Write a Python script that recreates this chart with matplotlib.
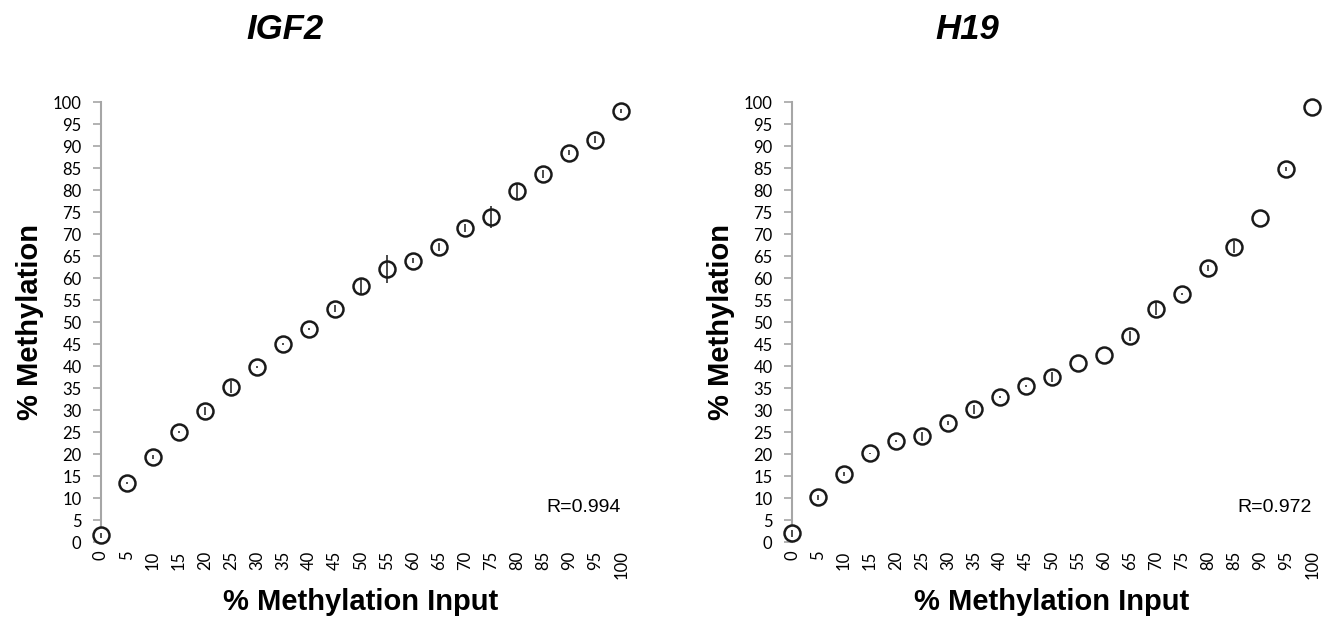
import numpy as np
import matplotlib
matplotlib.use("Agg")
import matplotlib.pyplot as plt

# x categories (% methylation input)
input_pct = [0, 5, 10, 15, 20, 25, 30, 35, 40, 45, 50,
             55, 60, 65, 70, 75, 80, 85, 90, 95, 100]

# IGF2 measured methylation and error
igf2_mean = [1.5, 13.4, 19.3, 25.0, 29.8, 35.3, 39.8, 45.0, 48.5, 53.0, 58.2,
             62.0, 64.0, 67.0, 71.3, 74.0, 79.7, 83.7, 88.5, 91.5, 98.0]
igf2_err = [0.5, 0.2, 0.4, 0.2, 1.0, 1.4, 0.2, 0.3, 0.2, 0.8, 1.9,
            3.2, 0.6, 0.9, 0.9, 2.5, 1.8, 0.9, 0.6, 0.8, 0.5]

# H19 measured methylation and error
h19_mean = [2.0, 10.2, 15.5, 20.2, 23.0, 24.0, 27.0, 30.2, 33.0, 35.5, 37.5,
            40.7, 42.5, 46.8, 53.0, 56.4, 62.3, 67.0, 73.6, 84.8, 98.9]
h19_err = [0.8, 0.6, 0.5, 0.1, 0.2, 1.1, 0.5, 1.0, 0.2, 0.2, 1.1,
           0.0, 0.0, 1.1, 1.5, 0.2, 0.6, 1.4, 0.0, 0.5, 0.0]

titles = ["IGF2", "H19"]
r_labels = ["R=0.994", "R=0.972"]

fig = plt.figure(figsize=(13.27, 6.23), dpi=100)
tick_font = "Lato"
bold_font = ["Liberation Sans", "DejaVu Sans"]

panels = [(igf2_mean, igf2_err), (h19_mean, h19_err)]
lefts = [101 / 1327, 792 / 1327]
for i, (mean, err) in enumerate(panels):
    ax = fig.add_axes([lefts[i], 0.130, 0.392, 0.706])
    ax.plot(input_pct, mean, "o", ms=11.5, mfc="white", mec="#1a1a1a",
            mew=1.8, zorder=3, clip_on=False)
    ax.errorbar(input_pct, mean, yerr=err, fmt="none", ecolor="#1a1a1a",
                elinewidth=1.1, capsize=0, zorder=4, clip_on=False)
    ax.set_xlim(0, 100)
    ax.set_ylim(0, 100)
    ax.set_xticks(input_pct)
    ax.set_xticklabels([str(v) for v in input_pct], rotation=90,
                       fontsize=12, family=tick_font)
    ax.set_yticks(range(0, 101, 5))
    ax.set_yticklabels([str(v) for v in range(0, 101, 5)],
                       fontsize=12, family=tick_font)
    for s in ["top", "right", "bottom"]:
        ax.spines[s].set_visible(False)
    ax.spines["left"].set_color("#a6a6a6")
    ax.spines["left"].set_linewidth(1.5)
    ax.tick_params(axis="y", direction="out", length=6, width=1.2,
                   color="#a6a6a6", pad=8)
    ax.tick_params(axis="x", length=0, pad=6)
    ax.set_ylabel("% Methylation", fontsize=21, fontweight="bold",
                  family=bold_font, labelpad=6)
    ax.set_xlabel("% Methylation Input", fontsize=21, fontweight="bold",
                  family=bold_font, labelpad=6)
    ax.text(1.0, 0.06, r_labels[i], transform=ax.transAxes, ha="right",
            va="bottom", fontsize=14, family=bold_font)

fig.text(285 / 1327, 0.952, titles[0], ha="center", va="center", fontsize=25,
         fontweight="bold", style="italic", family=bold_font)
fig.text(967 / 1327, 0.952, titles[1], ha="center", va="center", fontsize=25,
         fontweight="bold", style="italic", family=bold_font)

fig.savefig("out.png", dpi=100)
